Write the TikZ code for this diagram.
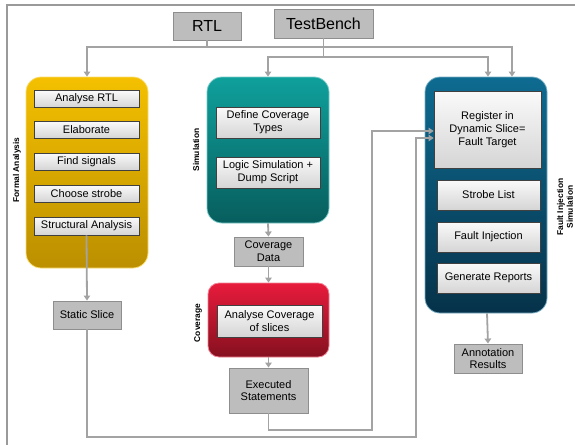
\documentclass[tikz,border=0pt]{standalone}
\usepackage{fontspec}
\setmainfont{Liberation Sans}
\usepackage{tikz}
\usetikzlibrary{arrows.meta,positioning}

\definecolor{linegray}{HTML}{A3A3A3}
\definecolor{framegray}{HTML}{9A9A9A}
\definecolor{boxgray}{HTML}{BDBDBD}
\definecolor{boxedge}{HTML}{8E8E8E}
\definecolor{yeltop}{HTML}{F4C000}
\definecolor{yelbot}{HTML}{BB8F00}
\definecolor{tealtop}{HTML}{0FA09C}
\definecolor{tealbot}{HTML}{075E5D}
\definecolor{redtop}{HTML}{E81B3C}
\definecolor{redbot}{HTML}{85101F}
\definecolor{bluetop}{HTML}{0E6B91}
\definecolor{bluebot}{HTML}{06324A}

\tikzset{
  databox/.style={draw=boxedge, fill=boxgray, line width=0.9pt, inner sep=0pt,
    align=center, font=\fontsize{11}{12.7}\selectfont},
  stepbox/.style={draw=black!75, line width=0.7pt, top color=gray!4, bottom color=gray!33,
    inner sep=0pt, align=center, font=\fontsize{11}{12.7}\selectfont},
  stage/.style={draw=#1top!55!white, line width=0.8pt, rounded corners=15pt,
    top color=#1top, middle color=#1top, bottom color=#1bot, inner sep=0pt},
  stagelabel/.style={rotate=90, align=center, font=\bfseries\fontsize{8.4}{9.6}\selectfont},
  conn/.style={draw=linegray, line width=1.8pt, -{Triangle[length=5pt,width=6.5pt]}}
}

\begin{document}
\begin{tikzpicture}[x=1pt,y=-1pt]
  \useasboundingbox (0,0) rectangle (575,444);
  \clip (0,0) rectangle (575,444);
  \draw[framegray, line width=1.3pt] (7,5) rectangle (620,480);

  \draw (207,26) node[databox, minimum width=68pt, minimum height=28pt,
    font=\fontsize{16}{18}\selectfont] (rtl) {RTL};
  \draw (323.5,23.5) node[databox, minimum width=99pt, minimum height=29pt,
    font=\fontsize{16}{18}\selectfont] (testbench) {TestBench};

  \draw (87,172.5) node[stage=yel, minimum width=122pt, minimum height=191pt] (formal) {};
  \draw (268,150) node[stage=teal, minimum width=122pt, minimum height=146pt] (sim) {};
  \draw (268.5,320) node[stage=red, rounded corners=11pt, minimum width=121pt, minimum height=74pt] (cov) {};
  \draw (486,195) node[stage=blue, minimum width=122pt, minimum height=236pt] (fault) {};

  \draw (86.5,99) node[stepbox, minimum width=105pt, minimum height=17pt] (analyse) {Analyse RTL};
  \draw (86.5,130) node[stepbox, minimum width=105pt, minimum height=17pt] (elaborate) {Elaborate};
  \draw (86.5,161.5) node[stepbox, minimum width=105pt, minimum height=17pt] (signals) {Find signals};
  \draw (86.5,193.5) node[stepbox, minimum width=105pt, minimum height=17pt] (strobe) {Choose strobe};
  \draw (86.5,226) node[stepbox, minimum width=105pt, minimum height=18pt] (structural) {Structural Analysis};

  \draw (268,122.5) node[stepbox, minimum width=104pt, minimum height=31pt] (covtypes) {Define Coverage\\Types};
  \draw (268,172.5) node[stepbox, minimum width=104pt, minimum height=31pt] (logicsim) {Logic Simulation +\\Dump Script};

  \draw (269.5,321) node[stepbox, minimum width=105pt, minimum height=32pt] (slices) {Analyse Coverage\\of slices};

  \draw (487.5,129.5) node[stepbox, minimum width=107pt, minimum height=77pt] (register) {Register in\\Dynamic Slice=\\Fault Target};
  \draw (488.5,195) node[stepbox, minimum width=103pt, minimum height=30pt] (strobelist) {Strobe List};
  \draw (488.5,237) node[stepbox, minimum width=103pt, minimum height=30pt] (injection) {Fault Injection};
  \draw (488.5,278) node[stepbox, minimum width=103pt, minimum height=30pt] (reports) {Generate Reports};

  \draw (268.5,251.5) node[databox, minimum width=69pt, minimum height=29pt] (covdata) {Coverage\\Data};
  \draw (87,315) node[databox, minimum width=68pt, minimum height=28pt] (static) {Static Slice};
  \draw (268.5,390.5) node[databox, minimum width=79pt, minimum height=45pt] (executed) {Executed\\Statements};
  \draw (488,358.5) node[databox, minimum width=68pt, minimum height=29pt] (annotation) {Annotation\\Results};

  \draw (17,170) node[stagelabel] (formallabel) {Formal Analysis};
  \draw (196,150) node[stagelabel] (simlabel) {Simulation};
  \draw (198,323) node[stagelabel] (covlabel) {Coverage};
  \draw (565,207) node[stagelabel] (faultlabel) {Fault Injection\\Simulation};

  \coordinate (rtlbus) at (207,47);
  \coordinate (tbbus) at (323.5,57);
  \coordinate (execturn) at (372,430);
  \coordinate (staticturn) at (416,437);

  \draw[conn] (rtl.south) -- (rtlbus) -| (formal.north);
  \draw[conn] (rtlbus) -| ([xshift=26pt]fault.north);
  \draw[conn] (testbench.south) -- (tbbus) -| (sim.north);
  \draw[conn] (tbbus) -| ([xshift=2pt]fault.north);

  \draw[conn] (structural.south) -- (static.north);
  \draw[conn] (sim.south) -- (covdata.north);
  \draw[conn] (covdata.south) -- (cov.north);
  \draw[conn] (cov.south) -- (executed.north);
  \draw[conn] ([xshift=1pt]fault.south) -- (annotation.north);

  \draw[conn] (executed.south) |- (execturn) |- ([yshift=-1.5pt]register.west);
  \draw[conn] (static.south) |- (staticturn) |- ([yshift=-8.5pt]register.west);
\end{tikzpicture}
\end{document}
